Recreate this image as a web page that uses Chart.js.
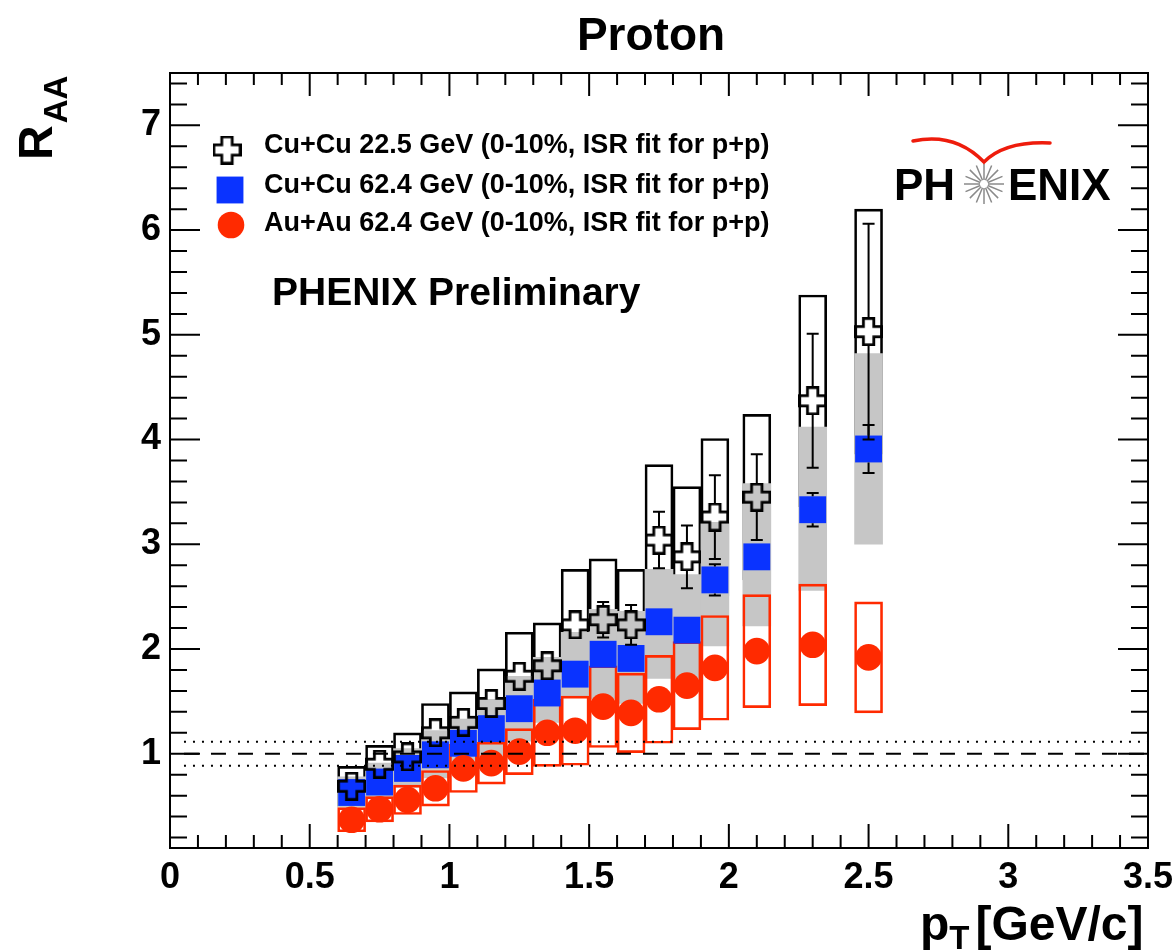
<!DOCTYPE html>
<html>
<head>
<meta charset="utf-8">
<title>Proton R_AA</title>
<script src="https://cdn.jsdelivr.net/npm/chart.js@4.4.0/dist/chart.umd.min.js"></script>
<style>
  html, body { margin: 0; padding: 0; background: #fff; }
  #wrap { width: 1175px; height: 952px; position: relative; }
</style>
</head>
<body>
<div id="wrap"><canvas id="raa"></canvas></div>
<script>
var FONT = '"Liberation Sans", Arial, Helvetica, sans-serif';

// pT bin centres [GeV/c]
var ptBins = [0.65, 0.75, 0.85, 0.95, 1.05, 1.15, 1.25, 1.35, 1.45, 1.55, 1.65, 1.75, 1.85, 1.95, 2.1, 2.3, 2.5];

// Cu+Cu 22.5 GeV
var cucu22     = [0.69, 0.90, 0.97, 1.20, 1.30, 1.48, 1.74, 1.84, 2.23, 2.28, 2.23, 3.04, 2.88, 3.26, 3.45, 4.37, 5.03];
var cucu22Stat = [0.04, 0.04, 0.05, 0.05, 0.06, 0.07, 0.08, 0.10, 0.12, 0.17, 0.19, 0.27, 0.30, 0.40, 0.41, 0.64, 1.03];
var cucu22Sys  = [0.19, 0.18, 0.23, 0.28, 0.29, 0.33, 0.42, 0.41, 0.53, 0.58, 0.53, 0.72, 0.67, 0.75, 0.79, 1.01, 1.17];

// Cu+Cu 62.4 GeV (asymmetric systematics)
var cucu62      = [0.63, 0.73, 0.86, 0.99, 1.10, 1.24, 1.43, 1.58, 1.76, 1.95, 1.91, 2.26, 2.18, 2.66, 2.88, 3.33, 3.91];
var cucu62Stat  = [0.02, 0.02, 0.03, 0.03, 0.03, 0.04, 0.04, 0.05, 0.06, 0.07, 0.08, 0.09, 0.09, 0.15, 0.12, 0.16, 0.23];
var cucu62SysLo = [0.14, 0.14, 0.18, 0.22, 0.24, 0.27, 0.31, 0.28, 0.22, 0.43, 0.43, 0.54, 0.50, 0.63, 0.66, 0.77, 0.91];
var cucu62SysHi = [0.15, 0.18, 0.19, 0.23, 0.23, 0.28, 0.31, 0.34, 0.40, 0.43, 0.45, 0.50, 0.53, 0.55, 0.70, 0.79, 0.91];

// Au+Au 62.4 GeV
var auau62     = [0.37, 0.47, 0.56, 0.67, 0.86, 0.91, 1.02, 1.20, 1.22, 1.45, 1.39, 1.52, 1.65, 1.82, 1.98, 2.04, 1.92];
var auau62Stat = [0.01, 0.01, 0.01, 0.02, 0.02, 0.02, 0.03, 0.03, 0.03, 0.04, 0.04, 0.05, 0.05, 0.06, 0.06, 0.08, 0.10];
var auau62Sys  = [0.115, 0.12, 0.14, 0.17, 0.23, 0.20, 0.22, 0.32, 0.33, 0.39, 0.38, 0.42, 0.42, 0.50, 0.54, 0.58, 0.53];

var seriesLabels = [
  'Cu+Cu 22.5 GeV (0-10%, ISR fit for p+p)',
  'Cu+Cu 62.4 GeV (0-10%, ISR fit for p+p)',
  'Au+Au 62.4 GeV (0-10%, ISR fit for p+p)'
];

// normalisation uncertainty band around R_AA = 1
var unity = 1;
var normBand = [0.885, 1.115];

var xTickValues = [0, 0.5, 1, 1.5, 2, 2.5, 3, 3.5];
var yTickValues = [1, 2, 3, 4, 5, 6, 7];

var BLUE = '#0a33ff', RED = '#ff2a00', GREY = '#c6c6c6';

function pointData(vals) {
  return ptBins.map(function (x, i) { return { x: x, y: vals[i] }; });
}
function boxData(vals, lo, hi) {
  return ptBins.map(function (x, i) { return { x: x, y: [vals[i] - lo[i], vals[i] + hi[i]] }; });
}

// open cross marker (ROOT style 28)
function makeCross(size, arm, lw) {
  var c = document.createElement('canvas');
  c.width = c.height = size;
  var g = c.getContext('2d');
  var h = size / 2, L = h - lw / 2, a = arm;
  g.beginPath();
  g.moveTo(h - a, h - L); g.lineTo(h + a, h - L); g.lineTo(h + a, h - a);
  g.lineTo(h + L, h - a); g.lineTo(h + L, h + a); g.lineTo(h + a, h + a);
  g.lineTo(h + a, h + L); g.lineTo(h - a, h + L); g.lineTo(h - a, h + a);
  g.lineTo(h - L, h + a); g.lineTo(h - L, h - a); g.lineTo(h - a, h - a);
  g.closePath();
  g.lineWidth = lw;
  g.strokeStyle = '#000';
  g.stroke();
  return c;
}
var crossMarker = makeCross(29, 5.2, 2.8);

// vertical stat error bars with caps, leaving a gap for the marker
var errorBars = {
  id: 'errorBars',
  afterDatasetsDraw: function (chart) {
    var ctx = chart.ctx, xs = chart.scales.x, ys = chart.scales.y;
    chart.data.datasets.forEach(function (ds) {
      if (!ds.errors) return;
      ctx.save();
      ctx.strokeStyle = '#000';
      ctx.lineWidth = 2;
      ds.data.forEach(function (p, i) {
        var px = xs.getPixelForValue(p.x), py = ys.getPixelForValue(p.y);
        var top = ys.getPixelForValue(p.y + ds.errors[i]);
        var bot = ys.getPixelForValue(p.y - ds.errors[i]);
        var gap = ds.errGap;
        ctx.beginPath();
        if (py - gap > top + 1) {
          ctx.moveTo(px, top); ctx.lineTo(px, py - gap);
          ctx.moveTo(px - 6, top); ctx.lineTo(px + 6, top);
        }
        if (bot - 1 > py + gap) {
          ctx.moveTo(px, bot); ctx.lineTo(px, py + gap);
          ctx.moveTo(px - 6, bot); ctx.lineTo(px + 6, bot);
        }
        ctx.stroke();
      });
      ctx.restore();
    });
  }
};

// frame with inward ticks on all four sides
var frameTicks = {
  id: 'frameTicks',
  afterDraw: function (chart) {
    var ctx = chart.ctx, a = chart.chartArea, xs = chart.scales.x, ys = chart.scales.y;
    ctx.save();
    ctx.strokeStyle = '#000';
    ctx.lineWidth = 2;
    ctx.strokeRect(a.left, a.top, a.right - a.left, a.bottom - a.top);
    ctx.beginPath();
    for (var k = 0; k <= 35; k++) {
      var px = xs.getPixelForValue(k / 10);
      var major = k % 5 === 0;
      ctx.moveTo(px, a.bottom); ctx.lineTo(px, a.bottom - (major ? 24 : 13));
      ctx.moveTo(px, a.top); ctx.lineTo(px, a.top + (major ? 23 : 12));
    }
    for (var j = 1; j <= 37; j++) {
      var py = ys.getPixelForValue(j / 5);
      var maj = j % 5 === 0;
      ctx.moveTo(a.left, py); ctx.lineTo(a.left + (maj ? 30 : 17), py);
      ctx.moveTo(a.right, py); ctx.lineTo(a.right - (maj ? 30 : 17), py);
    }
    ctx.stroke();
    ctx.restore();
  }
};

// title, axis titles, legend and experiment labels
var annotations = {
  id: 'annotations',
  afterDraw: function (chart) {
    var ctx = chart.ctx;
    ctx.save();
    ctx.fillStyle = '#000';

    ctx.font = 'bold 46px ' + FONT;
    ctx.textAlign = 'center';
    ctx.textBaseline = 'middle';
    ctx.fillText('Proton', 651, 37);

    // x title: p_T [GeV/c]
    ctx.textAlign = 'left';
    ctx.textBaseline = 'alphabetic';
    var xt = 920, base = 940;
    ctx.font = 'bold 48px ' + FONT;
    ctx.fillText('p', xt, base);
    xt += ctx.measureText('p').width;
    ctx.font = 'bold 33px ' + FONT;
    ctx.fillText('T', xt, base + 9);
    xt += ctx.measureText('T').width + 6;
    ctx.font = 'bold 48px ' + FONT;
    ctx.fillText('[GeV/c]', xt, base);

    // y title: R_AA
    ctx.save();
    ctx.translate(52, 160);
    ctx.rotate(-Math.PI / 2);
    ctx.font = 'bold 48px ' + FONT;
    ctx.fillText('R', 0, 0);
    var rw = ctx.measureText('R').width;
    ctx.font = 'bold 33px ' + FONT;
    ctx.fillText('AA', rw + 2, 15);
    ctx.restore();

    // legend
    var helpers = Chart.helpers;
    ctx.drawImage(crossMarker, 227 - 14.5, 150 - 14.5);
    ctx.fillStyle = BLUE;
    helpers.drawPoint(ctx, { pointStyle: 'rect', radius: 19, borderWidth: 0, rotation: 0 }, 230, 190);
    ctx.fillStyle = RED;
    helpers.drawPoint(ctx, { pointStyle: 'circle', radius: 13.3, borderWidth: 0, rotation: 0 }, 231, 225);
    ctx.fillStyle = '#000';
    ctx.font = 'bold 27px ' + FONT;
    ctx.textBaseline = 'middle';
    var rows = [146, 186, 224];
    seriesLabels.forEach(function (t, i) { ctx.fillText(t, 264, rows[i]); });

    ctx.font = 'bold 39px ' + FONT;
    ctx.textBaseline = 'alphabetic';
    ctx.fillText('PHENIX Preliminary', 272, 305);

    // PHENIX logo
    ctx.font = 'bold 44px ' + FONT;
    ctx.fillText('PH', 894, 200);
    ctx.fillText('ENIX', 1008, 200);
    ctx.strokeStyle = '#8a8a8a';
    ctx.lineWidth = 1.5;
    ctx.beginPath();
    for (var s = 0; s < 16; s++) {
      var ang = s * Math.PI / 8;
      ctx.moveTo(984 + 4 * Math.cos(ang), 184 + 4 * Math.sin(ang));
      ctx.lineTo(984 + 20 * Math.cos(ang), 184 + 20 * Math.sin(ang));
    }
    ctx.stroke();
    ctx.strokeStyle = '#ee1c0c';
    ctx.lineWidth = 3.5;
    ctx.lineCap = 'round';
    ctx.beginPath();
    ctx.moveTo(913, 141);
    ctx.quadraticCurveTo(955, 132, 984, 162);
    ctx.quadraticCurveTo(1005, 141, 1050, 143);
    ctx.stroke();
    ctx.restore();
  }
};

var ctx = document.getElementById('raa').getContext('2d');
new Chart(ctx, {
  type: 'scatter',
  data: {
    datasets: [
      { type: 'line', data: [{ x: 0.05, y: unity }, { x: 3.5, y: unity }], borderColor: '#000', borderWidth: 2,
        borderDash: [15, 12], pointRadius: 0, order: 0 },
      { type: 'line', data: [{ x: 0.05, y: normBand[0] }, { x: 3.5, y: normBand[0] }], borderColor: '#000', borderWidth: 2,
        borderDash: [2, 7], pointRadius: 0, order: 0 },
      { type: 'line', data: [{ x: 0.05, y: normBand[1] }, { x: 3.5, y: normBand[1] }], borderColor: '#000', borderWidth: 2,
        borderDash: [2, 7], pointRadius: 0, order: 0 },

      { label: seriesLabels[0], data: pointData(cucu22), pointStyle: crossMarker, pointRadius: 14.5,
        errors: cucu22Stat, errGap: 13.5, order: 1 },
      { label: seriesLabels[2], data: pointData(auau62), pointStyle: 'circle', pointRadius: 13.3,
        backgroundColor: RED, borderWidth: 0, errors: auau62Stat, errGap: 13, order: 2 },
      { label: seriesLabels[1], data: pointData(cucu62), pointStyle: 'rect', pointRadius: 19,
        backgroundColor: BLUE, borderWidth: 0, errors: cucu62Stat, errGap: 13.5, order: 3 },

      { type: 'bar', data: boxData(auau62, auau62Sys, auau62Sys), backgroundColor: 'rgba(0,0,0,0)',
        borderColor: RED, borderWidth: 2, borderSkipped: false, barThickness: 28, grouped: false, order: 4 },
      { type: 'bar', data: boxData(cucu62, cucu62SysLo, cucu62SysHi), backgroundColor: GREY,
        borderWidth: 0, barThickness: 28, grouped: false, order: 5 },
      { type: 'bar', data: boxData(cucu22, cucu22Sys, cucu22Sys), backgroundColor: 'rgba(0,0,0,0)',
        borderColor: '#000', borderWidth: 2, borderSkipped: false, barThickness: 28, grouped: false, order: 6 }
    ]
  },
  options: {
    responsive: true,
    maintainAspectRatio: false,
    animation: false,
    events: [],
    layout: { padding: { left: 0, right: 27, top: 73, bottom: 0 } },
    plugins: { legend: { display: false }, tooltip: { enabled: false }, title: { display: false } },
    scales: {
      x: {
        type: 'linear', min: 0, max: 3.5, offset: false,
        border: { display: false },
        grid: { display: false, drawTicks: false },
        ticks: { color: '#000', padding: 8, maxRotation: 0, autoSkip: false,
          font: { family: FONT, size: 36, weight: 'bold' },
          callback: function (v) { return String(v); } },
        afterBuildTicks: function (s) { s.ticks = xTickValues.map(function (v) { return { value: v }; }); },
        afterFit: function (s) { s.height = 104; s.paddingLeft = 0; s.paddingRight = 0; }
      },
      y: {
        type: 'linear', min: 0.1, max: 7.5,
        border: { display: false },
        grid: { display: false, drawTicks: false },
        ticks: { color: '#000', padding: 9, font: { family: FONT, size: 36, weight: 'bold' },
          callback: function (v) { return String(v); } },
        afterBuildTicks: function (s) { s.ticks = yTickValues.map(function (v) { return { value: v }; }); },
        afterFit: function (s) { s.width = 170; }
      }
    }
  },
  plugins: [errorBars, frameTicks, annotations]
});
</script>
</body>
</html>
